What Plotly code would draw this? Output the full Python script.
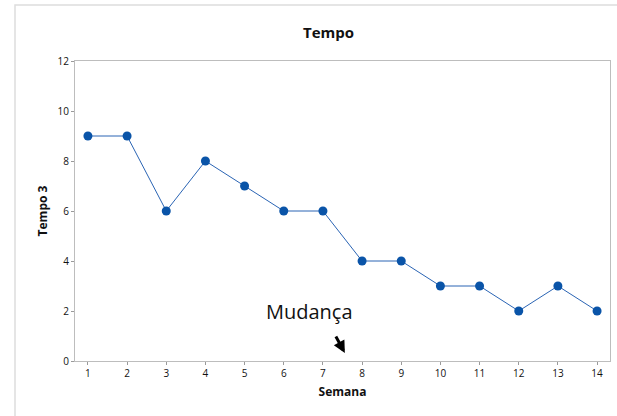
import plotly.graph_objects as go

semana = list(range(1, 15))
tempo3 = [9, 9, 6, 8, 7, 6, 6, 4, 4, 3, 3, 2, 3, 2]
x_ticks = list(range(1, 15))
y_ticks = [0, 2, 4, 6, 8, 10, 12]

fig = go.Figure()
fig.add_trace(go.Scatter(
    x=semana, y=tempo3, mode="lines+markers",
    line=dict(color="#2a64b4", width=1),
    marker=dict(color="#0a54a8", size=9),
    showlegend=False,
))

font_fam = "Open Sans, Noto Sans, sans-serif"
axis_common = dict(
    showgrid=False, zeroline=False, showline=True, mirror=True,
    linecolor="#bdbdbd", linewidth=1, ticks="outside", ticklen=3,
    tickcolor="#9a9a9a", tickfont=dict(family=font_fam, size=10, color="#111"),
)

fig.update_layout(
    width=617, height=416,
    margin=dict(l=75, r=7, t=61, b=55),
    paper_bgcolor="white", plot_bgcolor="white",
    font=dict(family=font_fam),
    xaxis=dict(range=[0.67, 14.33], tickvals=x_ticks, **axis_common,
               title=dict(text="<b>Semana</b>", font=dict(size=12, color="#111"), standoff=8)),
    yaxis=dict(range=[0, 12], tickvals=y_ticks, **axis_common,
               title=dict(text="<b>Tempo 3</b>", font=dict(size=12, color="#111"), standoff=7)),
)

fig.add_annotation(text="<b>Tempo</b>", xref="paper", yref="paper",
                   x=(328 - 75) / 535, y=(361 - 32) / 300, yanchor="middle", xanchor="center",
                   showarrow=False, font=dict(size=15, color="#111", family=font_fam))

fig.add_annotation(text="Mudança", x=6.67, y=2.0, showarrow=False,
                   yanchor="middle", xanchor="center",
                   font=dict(size=20, color="#111", family=font_fam))

fig.add_annotation(x=7.56, y=0.32, ax=7.31, ay=1.04, axref="x", ayref="y",
                   xref="x", yref="y", text="", showarrow=True,
                   arrowhead=2, arrowsize=0.8, arrowwidth=3, arrowcolor="black")

fig.add_shape(type="rect", xref="paper", yref="paper",
              x0=(15 - 75) / 535, y0=-0.4, x1=1.1, y1=(361 - 5) / 300,
              line=dict(color="#dddddd", width=1.5), layer="below")

fig.write_html("out.html", config={"displayModeBar": False},
               post_script="document.body.style.margin='0';document.body.style.overflow='hidden';")
